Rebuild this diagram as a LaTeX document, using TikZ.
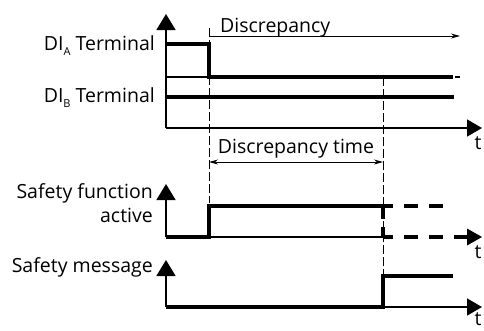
\documentclass[tikz,border=0pt]{standalone}
\usepackage{fontspec}
\setmainfont{Open Sans}
\usetikzlibrary{arrows.meta}
\tikzset{dimtip/.tip={Stealth[length=9pt,width=5pt]}}
\begin{document}
\begin{tikzpicture}[x=1pt,y=-1pt,
  lbl/.style={inner sep=0pt,font=\fontsize{19.5}{23}\selectfont},
  axis/.style={line width=1.5pt,-{Triangle[length=15pt,width=17pt]}},
  vaxis/.style={line width=1.6pt,-{Triangle[length=16pt,width=19pt]}},
  sig/.style={line width=3.2pt,line cap=butt,line join=miter},
  sigdash/.style={line width=3.2pt,dash pattern=on 14pt off 11pt,dash phase=4pt},
  thin/.style={line width=1.2pt},
  guide/.style={line width=0.8pt,dash pattern=on 9pt off 3pt},
  dim/.style={line width=0.9pt}
]
\useasboundingbox (0,0) rectangle (484,330);
% coordinates
\coordinate (o1) at (166,128);
\coordinate (o2) at (166,237);
\coordinate (o3) at (166,307);
% guides
\draw[guide] (209,28) -- (209,203);
\draw[guide] (383,77) -- (383,307);
% top graph
\draw[thin] (166,77) -- (209,77);
\draw[vaxis] (166,128) -- (166,14);
\draw[axis] (166,128) -- (482,128);
\draw[sig] (166,44) -- (209,44) -- (209,77) -- (453,77);
\draw[thin] (455,77) -- (460,77);
\draw[sig] (166,97) -- (454,97);
% discrepancy
\draw[dim,-{dimtip}] (209,36) -- (460,36);
\node[lbl,anchor=base west] (disc) at (220,32) {Discrepancy};
\draw[dim,{dimtip}-{dimtip}] (209,162) -- (383,162);
\node[lbl,anchor=base] (dtime) at (296,153) {Discrepancy time};
% labels
\node[lbl,anchor=base east] (dia) at (155,50) {DI\raisebox{-5pt}{\fontsize{11}{11}\selectfont A} Terminal};
\node[lbl,anchor=base east] (dib) at (155,102) {DI\raisebox{-5pt}{\fontsize{11}{11}\selectfont B} Terminal};
\node[lbl,anchor=base east] (sf1) at (153,198) {Safety function};
\node[lbl,anchor=base east] (sf2) at (153,222) {active};
\node[lbl,anchor=base east] (sm) at (153,272) {Safety message};
% middle graph
\draw[vaxis] (166,237) -- (166,184);
\draw[thin] (209,237) -- (383,237);
\draw[sig] (166,237) -- (209,237) -- (209,206) -- (383,206);
\draw[sigdash] (383,206) -- (450,206);
\draw[line width=3.2pt,dash pattern=on 13pt off 8pt] (383,206) -- (383,237);
\draw[sigdash] (383,237) -- (468,237);
\fill (467,228.5) -- (482,237) -- (467,245.5) -- cycle;
% bottom graph
\draw[vaxis] (166,307) -- (166,260);
\draw[axis] (383,307) -- (482,307);
\draw[sig] (166,307) -- (383,307) -- (383,276) -- (453,276);
% t labels
\node[lbl,anchor=base] (ta) at (478,149) {t};
\node[lbl,anchor=base] (tb) at (478,258) {t};
\node[lbl,anchor=base] (tc) at (478,325) {t};
\end{tikzpicture}
\end{document}
